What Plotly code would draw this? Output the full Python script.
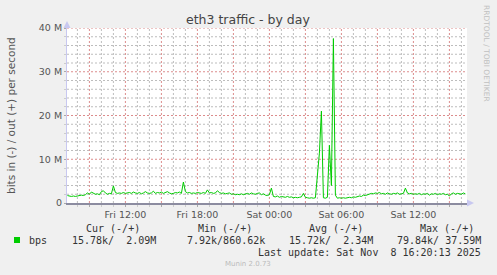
import plotly.graph_objects as go
import pandas as pd

# ---------------- data (Mbit/s, "out" direction, 10-minute samples) ----------------
START = "2025-11-07 07:10"
STEP = "10min"

out_fri_morning = [1.7, 1.6, 1.5, 1.6, 1.5, 1.6, 1.7, 1.8, 1.7, 1.9, 2.3, 2.0]
out_fri_late_morning = [2.5, 2.2, 2.0, 2.1, 1.9, 2.6, 2.8, 2.3, 2.0, 2.2, 2.1, 3.9,
                        2.4, 2.2, 2.3, 2.2, 2.4, 2.2]
out_fri_afternoon = [2.3, 2.4, 2.2, 2.5, 2.3, 2.2, 2.4, 2.1, 2.3, 2.6, 2.3, 2.2,
                     2.3, 2.7, 2.2, 2.4, 2.3, 2.5, 2.2, 2.4, 2.6, 2.3, 2.1, 2.2,
                     2.4, 2.3, 2.5, 2.2, 4.8, 2.6, 2.3, 2.4, 2.2, 2.3, 2.2, 2.4]
out_fri_evening = [2.3, 2.2, 2.4, 2.2, 3.0, 2.3, 2.4, 2.2, 2.3, 2.8, 2.4, 2.2,
                   2.3, 2.1, 2.2, 2.3, 2.0, 2.1, 1.9, 2.0, 1.9, 2.1, 1.9, 2.0,
                   2.2, 2.0, 2.3, 2.1, 2.0, 2.2, 2.3, 1.9, 2.1, 1.8, 1.7, 1.9]
out_sat_night = [3.4, 1.5, 1.4, 1.6, 1.3, 1.5, 1.4, 1.3, 1.5, 1.3, 1.4, 1.2,
                 1.3, 1.2, 1.3, 1.4, 2.2, 1.3, 1.2, 1.1, 1.2, 1.1, 1.2,
                 6.0, 11.4, 21.0, 1.2, 1.1, 1.3, 13.2, 4.0, 37.59,
                 1.8, 1.1, 1.2, 1.1]
out_sat_morning = [1.2, 1.1, 1.2, 1.3, 1.2, 1.4, 1.3, 1.5, 1.6, 1.5, 1.8, 1.7,
                   1.9, 2.0, 2.2, 2.1, 2.3, 2.2, 2.4, 2.1, 2.2, 2.0, 2.3, 2.1,
                   2.0, 2.2, 2.1, 2.3, 2.0, 2.1, 2.2, 3.4, 2.3, 2.1, 2.2, 2.0]
out_sat_afternoon = [2.1, 2.0, 2.2, 1.9, 2.1, 2.0, 2.2, 1.8, 2.1, 2.0, 2.2, 1.9,
                     2.1, 2.0, 2.2, 1.9, 2.0, 1.6, 2.1, 2.3, 2.0, 2.2, 2.1, 2.0,
                     2.3, 2.09]

out_mbps = (out_fri_morning + out_fri_late_morning + out_fri_afternoon +
            out_fri_evening + out_sat_night + out_sat_morning + out_sat_afternoon)
times = pd.date_range(START, periods=len(out_mbps), freq=STEP)

x_range = ["2025-11-07 07:08", "2025-11-08 16:28"]
y_range = [0, 40]
y_major = [0, 10, 20, 30, 40]
y_labels = ["0", "10 M", "20 M", "30 M", "40 M"]
y_minor_step = 2
x_label_text = {"Fri 12:00", "Fri 18:00", "Sat 00:00", "Sat 06:00", "Sat 12:00"}

stat_headers = ["Cur (-/+)", "Min (-/+)", "Avg (-/+)", "Max (-/+)"]
stat_in = ["15.78k", "7.92k", "15.72k", "79.84k"]
stat_out = ["2.09M", "860.62k", "2.34M", "37.59M"]
last_update = "Last update: Sat Nov  8 16:20:13 2025"

# ---------------- grid positions ----------------
major_x = pd.date_range("2025-11-07 09:00", "2025-11-08 15:00", freq="3h")
minor_x = pd.date_range("2025-11-07 08:00", "2025-11-08 16:00", freq="1h")
major_vals = [t.strftime("%Y-%m-%d %H:%M") for t in major_x]
major_text = [t.strftime("%a %H:%M") if t.strftime("%a %H:%M") in x_label_text else ""
              for t in major_x]
minor_vals = [t.strftime("%Y-%m-%d %H:%M") for t in minor_x if t.hour % 3 != 0]
y_minor = [v for v in range(y_range[0], y_range[1] + 1, y_minor_step) if v not in y_major]

W, H = 497, 275
L, R, T, B = 67, 30, 28, 72
PW, PH = W - L - R, H - T - B


def px(x):
    return (x - L) / PW


def py(y):
    return (H - B - y) / PH


GREEN = "#00CC00"
RED_GRID = "#dc8c8c"
GRAY_GRID = "#bdbdbd"
TXT = "#555555"
DASH = "2px,2px"

fig = go.Figure()

# grid lines drawn as thin dotted line traces under the data
gx, gy = [], []
for v in minor_vals:
    gx += [v, v, None]
    gy += [y_range[0], y_range[1], None]
x0, x1 = x_range
for v in y_minor:
    gx += [x0, x1, None]
    gy += [v, v, None]
fig.add_trace(go.Scatter(x=gx, y=gy, mode="lines", hoverinfo="skip", showlegend=False,
                         line=dict(color=GRAY_GRID, width=1, dash=DASH)))
rx, ry = [], []
for v in major_vals:
    rx += [v, v, None]
    ry += [y_range[0], y_range[1], None]
for v in y_major[1:]:
    rx += [x0, x1, None]
    ry += [v, v, None]
fig.add_trace(go.Scatter(x=rx, y=ry, mode="lines", hoverinfo="skip", showlegend=False,
                         line=dict(color=RED_GRID, width=1, dash=DASH)))

fig.add_trace(go.Scatter(x=times, y=out_mbps, mode="lines",
                         line=dict(color=GREEN, width=1), showlegend=False,
                         hoverinfo="skip"))

fig.update_layout(
    width=W, height=H,
    margin=dict(l=L, r=R, t=T, b=B, pad=0),
    paper_bgcolor="#F0F0F0", plot_bgcolor="#FFFFFF",
    font=dict(family="DejaVu Sans", size=9.5, color=TXT),
    showlegend=False,
)

fig.update_xaxes(
    type="date", range=x_range,
    tickmode="array", tickvals=major_vals, ticktext=major_text,
    showgrid=False,
    ticks="outside", ticklen=2, tickcolor="#aaaaaa",
    showline=True, linecolor="#8c8ca0", linewidth=1.5,
    tickfont=dict(family="DejaVu Sans", size=9.5, color=TXT),
    zeroline=False,
    minor=dict(tickmode="array", tickvals=minor_vals, showgrid=False,
               ticks="outside", ticklen=2, tickcolor="#cccccc"),
)
fig.update_yaxes(
    range=y_range,
    tickmode="array", tickvals=y_major, ticktext=y_labels,
    showgrid=False,
    ticks="outside", ticklen=2, tickcolor="#aaaaaa",
    showline=True, linecolor="#c8c8f0", linewidth=1,
    tickfont=dict(family="DejaVu Sans", size=9.5, color=TXT),
    zeroline=False,
    minor=dict(tickmode="array", tickvals=y_minor, showgrid=False,
               ticks="outside", ticklen=2, tickcolor="#cccccc"),
)

# axis arrows
fig.add_shape(type="path", xref="paper", yref="paper", xsizemode="pixel",
              ysizemode="pixel", xanchor=0, yanchor=1,
              path="M -3.5 0 L 3.5 0 L 0 7 Z", fillcolor="#c8c8f0", line_width=0)
fig.add_shape(type="path", xref="paper", yref="paper", xsizemode="pixel",
              ysizemode="pixel", xanchor=1, yanchor=0,
              path="M 0 -3.5 L 0 3.5 L 7 0 Z", fillcolor="#c8c8f0", line_width=0)

ann = []
NB = "\u00a0"


def text(x, y, s, size=9.5, color=TXT, family="DejaVu Sans", xanchor="center",
         angle=0):
    ann.append(dict(x=px(x), y=py(y), xref="paper", yref="paper", text=s.replace(" ", NB),
                    showarrow=False, xanchor=xanchor, yanchor="middle",
                    textangle=angle,
                    font=dict(family=family, size=size, color=color)))


text(248, 19, "eth3 traffic - by day", size=12.5, color="#444444")
text(11, 116, "bits in (-) / out (+) per second", size=10.5, color=TXT, angle=-90)
text(487, 53, "RRDTOOL / TOBI OETIKER", size=7.5, color="#c0c0c0", angle=90)

MONO = "DejaVu Sans Mono"
header_right = [142, 254, 365, 476]
cell_right = [158, 267, 375, 483]
for hdr, xr in zip(stat_headers, header_right):
    text(xr, 228, hdr, size=10, color="#333333", family=MONO, xanchor="right")
text(27, 240, "bps", size=10, color="#333333", family=MONO, xanchor="left")
for vi, vo, xr in zip(stat_in, stat_out, cell_right):
    text(xr, 240, f"{vi}/{vo:>7}", size=10, color="#333333", family=MONO, xanchor="right")
text(483, 252, last_update, size=10, color="#333333", family=MONO, xanchor="right")
text(248, 264, "Munin 2.0.73", size=7, color="#bbbbbb")

fig.update_layout(annotations=ann)
fig.add_shape(type="rect", xref="paper", yref="paper",
              x0=px(14), x1=px(20), y0=py(243), y1=py(237),
              fillcolor=GREEN, line_width=0)

fig.write_html("out.html")
